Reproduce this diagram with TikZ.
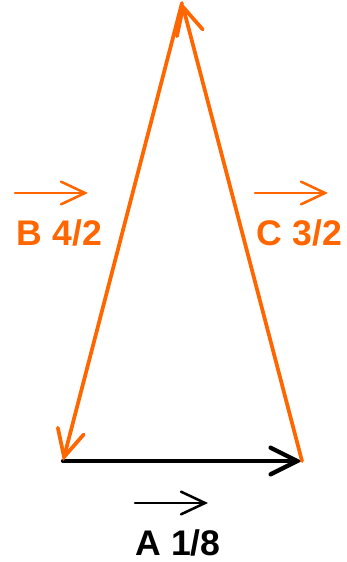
\documentclass[tikz,border=0pt]{standalone}
\usepackage{fontspec}
\setmainfont{Liberation Sans}
\usetikzlibrary{arrows.meta}
\definecolor{vorange}{RGB}{255,102,0}
\tikzset{
  bigtip/.style={-{Straight Barb[length=20pt,width=20pt,line cap=round]}},
  smalltip/.style={-{Straight Barb[length=18pt,width=17pt,line cap=round]}},
  side/.style={draw=vorange,line width=2.8pt,line cap=round,bigtip},
  base/.style={draw=black,line width=3.2pt,line cap=round,bigtip},
  vec/.style={line width=1.9pt,line cap=round,smalltip},
  lbl/.style={font=\fontsize{26.7}{32}\selectfont\bfseries,inner sep=0pt,anchor=base}
}
\begin{document}
\begin{tikzpicture}[x=0.75pt,y=-0.75pt]
\useasboundingbox (0,0) rectangle (347,562);
\coordinate (L) at (63,461);
\coordinate (R) at (302,461);
\coordinate (T) at (182,3);
\draw[base] (L) -- (R);
\draw[side] (T) -- (L);
\draw[side] (R) -- (T);
% labels
\coordinate (b1) at (15,193); \coordinate (b2) at (88,193);
\coordinate (c1) at (255,193); \coordinate (c2) at (328,193);
\coordinate (a1) at (135,503); \coordinate (a2) at (208,503);
\draw[vec,draw=vorange] (b1) -- (b2);
\draw[vec,draw=vorange] (c1) -- (c2);
\draw[vec,draw=black] (a1) -- (a2);
\node[lbl,text=vorange] (lb) at (59.5,245) {B 4/2};
\node[lbl,text=vorange] (lc) at (299.5,245) {C 3/2};
\node[lbl,text=black] (la) at (178,555) {A 1/8};
\end{tikzpicture}
\end{document}
